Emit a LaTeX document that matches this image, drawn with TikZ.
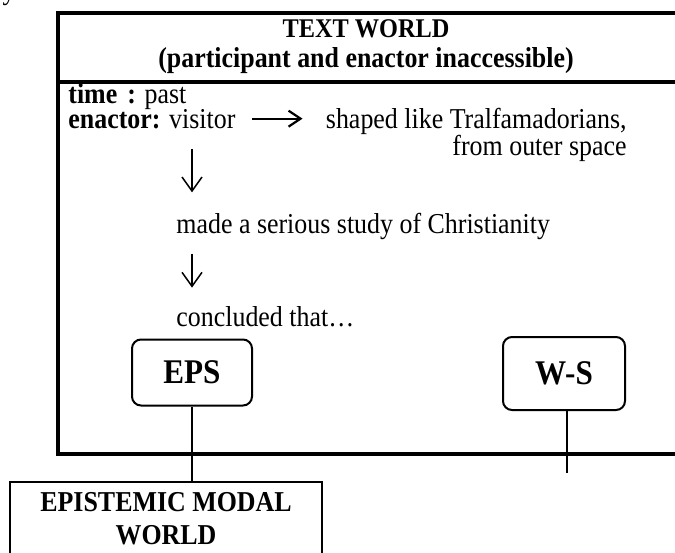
\documentclass[tikz,border=0pt]{standalone}
\usepackage{fontspec}
\setmainfont[FakeStretch=0.9]{Liberation Serif}
\usetikzlibrary{positioning,arrows.meta,calc}
\tikzset{
  frame/.style  ={line width=2pt},
  txt/.style    ={font=\fontsize{14.4}{15}\selectfont, inner sep=0pt},
  ttl/.style    ={txt, font=\fontsize{14.4}{15}\selectfont\bfseries, align=center},
  modal/.style  ={draw, rounded corners=4.5pt, line width=1pt, minimum width=60pt,
                  minimum height=33pt, inner sep=0pt, font=\fontsize{17.3}{18}\selectfont\bfseries},
  world/.style  ={draw, line width=1.2pt, minimum width=156pt, minimum height=36.5pt,
                  inner sep=0pt, align=center, font=\fontsize{14.4}{16.5}\selectfont\bfseries},
  arrD/.style   ={-{Straight Barb[length=7pt,width=10pt]}, line width=0.75pt},
  arrR/.style   ={-{Straight Barb[length=6pt,width=8pt]}, line width=1.1pt},
  link/.style   ={line width=1pt},
}
\begin{document}
\begin{tikzpicture}[x=0.5pt,y=-0.5pt]
\useasboundingbox (0,0) rectangle (675,552);
\clip (0,0) rectangle (675,552);

% text world frame
\draw[frame] (58,13) rectangle (720,454);
\draw[frame] (58,81.5) -- (720,81.5);
\node[txt, anchor=base] (frag) at (9,-1) {y};

\node[ttl] (title) at (366,47) {{\fontsize{13.5}{15}\selectfont TEXT WORLD}\\(participant and enactor inaccessible)};

\node[txt, anchor=base west] (time) at (68,103) {\textbf{time}\hspace{5pt}\textbf{:} past};
\node[txt, anchor=base west] (enactor) at (68,128) {\textbf{enactor:} visitor};
\node[txt, anchor=base east] (shape1) at (627,128) {shaped like Tralfamadorians,};
\node[txt, anchor=base east] (shape2) at (627,155) {from outer space};
\node[txt, anchor=base west] (study) at (176,233) {made a serious study of Christianity};
\node[txt, anchor=base west] (concl) at (176,326) {concluded that…};

\draw[arrR] ([xshift=8pt]enactor.east) -- ([xshift=-11.5pt]enactor.east -| shape1.west);
\draw[arrD] ([xshift=8pt,yshift=-10pt]study.west |- enactor.south)
  -- ([xshift=8pt,yshift=10pt]study.north west);
\draw[arrD] ([xshift=8pt,yshift=-7pt]study.south west)
  -- ([xshift=8pt,yshift=9pt]concl.north west);

% sub-worlds
\node[modal] (eps) at (192,372.5) {EPS};
\node[modal, minimum height=36.5pt, minimum width=61pt] (ws) at (564,373.5) {W-S};
\node[world] (emw) at (166,518.5) {EPISTEMIC MODAL\\WORLD};
\coordinate (wsend) at (567,473);

\draw[link] (eps.south) -- (eps.south |- emw.north);
\draw[link] (ws.south -| wsend) -- (wsend);
\end{tikzpicture}
\end{document}
